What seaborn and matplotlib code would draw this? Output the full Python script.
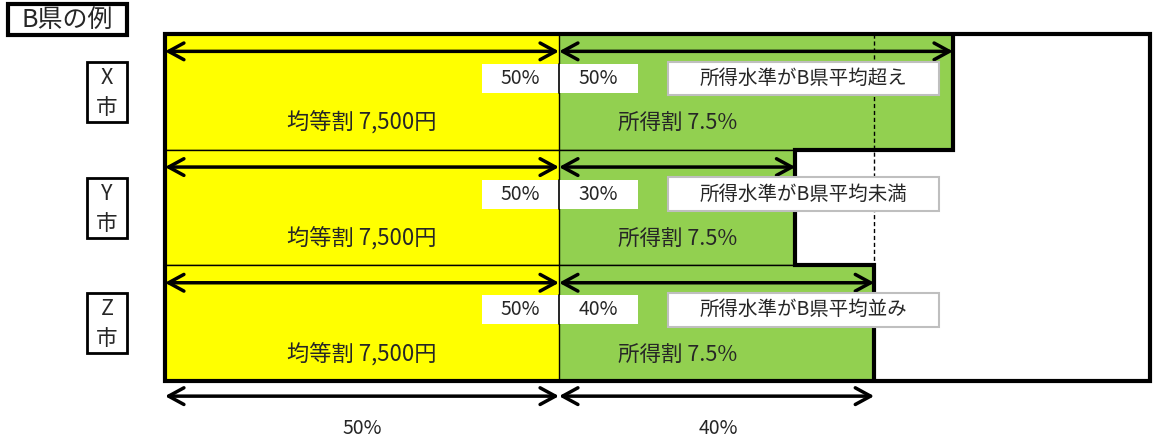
import matplotlib
matplotlib.use("Agg")
import matplotlib.pyplot as plt
from matplotlib.patches import Rectangle
import seaborn as sns
import pandas as pd

# ---- data ----
cities = ["X市", "Y市", "Z市"]
city_letters = ["X", "Y", "Z"]
equal_share = [50, 50, 50]          # 均等割 (%)
income_share = [50, 30, 40]         # 所得割 (%)
income_notes = ["所得水準がB県平均超え", "所得水準がB県平均未満", "所得水準がB県平均並み"]
equal_label = "均等割 7,500円"
income_label = "所得割 7.5%"
avg_income_share = 40               # B県平均
frame_total = 125
title = "B県の例"

sns.set_style("white")
plt.rcParams["font.family"] = ["Noto Sans CJK JP", "DejaVu Sans"]

YELLOW = "#FFFF00"
GREEN = "#92D050"

df = pd.DataFrame({
    "city": cities,
    "equal": equal_share,
    "income": income_share,
})
df["total"] = df["equal"] + df["income"]

fig = plt.figure(figsize=(11.56, 4.37), dpi=100)
ax = fig.add_axes([0, 0, 1, 1])

# stacked bars: green total first, yellow equal share on top
sns.barplot(data=df, y="city", x="total", orient="h", color=GREEN, saturation=1,
            width=1.0, edgecolor="black", linewidth=1.0, ax=ax, zorder=1)
sns.barplot(data=df, y="city", x="equal", orient="h", color=YELLOW, saturation=1,
            width=1.0, edgecolor="black", linewidth=1.0, ax=ax, zorder=1)

# pixel mapping helpers (x: % units, y: rows)
PX = 7.88      # px per %
PY = 115.7     # px per row
x0_px, ytop_px = 165, 34
ax.set_xlim(-x0_px / PX, (1156 - x0_px) / PX)
ax.set_ylim(2.5 + (437 - (ytop_px + 3 * PY)) / PY, -0.5 - ytop_px / PY)
ax.axis("off")

n = len(cities)

# average reference dashed line
ax.plot([50 + avg_income_share] * 2, [-0.5, 1.5], color="black", lw=1.0,
        ls=(0, (3, 2)), zorder=2)

# outer frame
ax.add_patch(Rectangle((0, -0.5), frame_total, n, fill=False, ec="black", lw=3, zorder=5))

# thick step outline of the income share
sx, sy = [], []
for i, t in enumerate(df["total"]):
    sx += [t, t]
    sy += [i - 0.5, i + 0.5]
sx.append(df["total"].iloc[-1]); sy.append(n - 0.5)
ax.plot(sx, sy, color="black", lw=3, solid_joinstyle="miter", zorder=5)

arrow_kw = dict(arrowstyle="<->,head_length=0.55,head_width=0.3", lw=2.5,
                color="black", shrinkA=0, shrinkB=0, mutation_scale=20)

for i in range(n):
    e = equal_share[i]
    inc = income_share[i]
    top = i - 0.5
    ya = top + 0.15
    ax.annotate("", xy=(0, ya), xytext=(e, ya), arrowprops=arrow_kw, zorder=6)
    ax.annotate("", xy=(e, ya), xytext=(e + inc, ya), arrowprops=arrow_kw, zorder=6)

    # white percent boxes
    by0, by1 = top + 0.26, top + 0.51
    ax.add_patch(Rectangle((e - 9.8, by0), 9.8, by1 - by0, fc="white", ec="none", zorder=3))
    ax.add_patch(Rectangle((e, by0), 10, by1 - by0, fc="white", ec="none", zorder=3))
    ax.plot([e, e], [by0, by1], color="black", lw=1.2, zorder=4)
    ax.text(e - 2.4, (by0 + by1) / 2, f"{e}%", ha="right", va="center", fontsize=14, zorder=4)
    ax.text(e + 5, (by0 + by1) / 2, f"{inc}%", ha="center", va="center", fontsize=14, zorder=4)

    # note box (drawn above the outlines)
    ny0, ny1 = top + 0.24, top + 0.53
    ax.add_patch(Rectangle((63.8, ny0), 34.4, ny1 - ny0, fc="white", ec="#BFBFBF", lw=1.5, zorder=7))
    ax.text(63.8 + 34.4 / 2, (ny0 + ny1) / 2, income_notes[i], ha="center", va="center",
            fontsize=14, zorder=8)

    # main labels
    ax.text(e / 2, top + 0.77, equal_label, ha="center", va="center", fontsize=16, zorder=4)
    ax.text(e + 15, top + 0.77, income_label, ha="center", va="center", fontsize=15.5, zorder=4)

    # city label boxes
    cx = (107 - x0_px) / PX
    bw, bh = 40 / PX, 60 / PY
    ax.add_patch(Rectangle((cx - bw / 2, i - bh / 2), bw, bh, fill=False, ec="black", lw=2,
                           clip_on=False, zorder=4))
    ax.text(cx, i - bh / 4 + 0.01, city_letters[i], ha="center", va="center", fontsize=15.5)
    ax.text(cx, i + bh / 4 + 0.01, "市", ha="center", va="center", fontsize=15.5)

# title box
tx0, tx1 = (8 - x0_px) / PX, (127 - x0_px) / PX
ty0, ty1 = -0.5 - (ytop_px - 4) / PY, -0.5 + (35 - ytop_px) / PY
ax.add_patch(Rectangle((tx0, ty0), tx1 - tx0, ty1 - ty0, fill=False, ec="black", lw=3, zorder=4))
ax.text((tx0 + tx1) / 2, (ty0 + ty1) / 2, title, ha="center", va="center", fontsize=18)

# bottom dimension arrows
yb = n - 0.5 + 0.13
ax.annotate("", xy=(0, yb), xytext=(50, yb), arrowprops=arrow_kw)
ax.annotate("", xy=(50, yb), xytext=(50 + avg_income_share, yb), arrowprops=arrow_kw)
ax.text(25, n - 0.5 + 0.41, "50%", ha="center", va="center", fontsize=14)
ax.text(50 + 20.2, n - 0.5 + 0.41, f"{avg_income_share}%", ha="center", va="center", fontsize=14)

fig.savefig("out.png", dpi=100)
